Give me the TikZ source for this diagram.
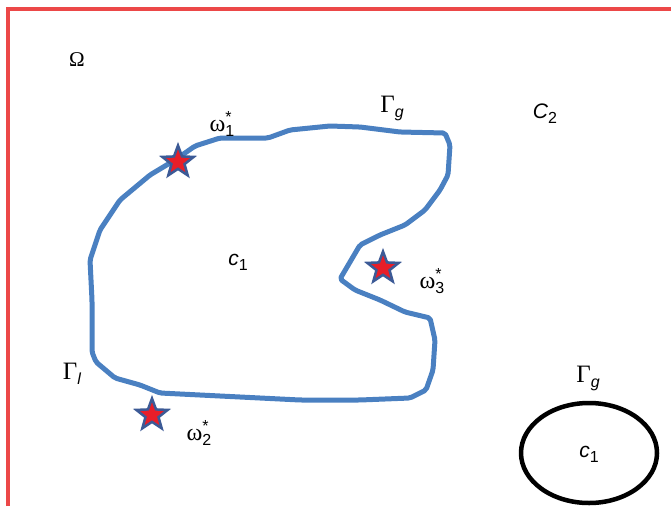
\documentclass[tikz,border=0pt]{standalone}
\usepackage{fontspec}
\setmainfont{Liberation Sans}
\newfontfamily\serifgr{Liberation Serif}
\usetikzlibrary{shapes.geometric}
\definecolor{framered}{RGB}{236,72,72}
\definecolor{bdblue}{RGB}{74,128,193}
\definecolor{stared}{RGB}{232,30,40}
\definecolor{staredge}{RGB}{60,90,150}
\newcommand{\lowsub}[1]{\raisebox{-0.45ex}{\fontsize{16}{16}\selectfont #1}}
\newcommand{\Gam}[1]{{\serifgr\fontsize{25}{25}\selectfont\char"0393}\lowsub{\itshape #1}}
\newcommand{\omstar}[1]{{\serifgr\fontsize{24}{24}\selectfont\char"03C9}\rlap{\raisebox{0.85ex}{\fontsize{16}{16}\selectfont *}}\lowsub{#1}}
\newcommand{\cvar}[1]{{\itshape c}\lowsub{#1}}
\tikzset{
  lbl/.style={font=\fontsize{21}{21}\selectfont, inner sep=0pt},
  pstar/.style={star, star points=5, star point ratio=2.4, minimum size=33pt,
    inner sep=0pt, fill=stared, draw=staredge, line width=2.5pt},
}
\begin{document}
\begin{tikzpicture}[x=1pt,y=-1pt]
\useasboundingbox (0,0) rectangle (671,506);
% outer domain edges
\draw[framered, line width=3.5pt] (8,506) -- (8,9) -- (671,9);
% boundary of the inner region
\draw[bdblue, line width=5pt, line join=round, rounded corners=2pt]
  (220,138) -- (268,138) -- (290,130) -- (330,126) -- (360,127) -- (400,132)
  -- (445,133) -- (450,145) -- (448,175) -- (440,190) -- (425,210) -- (405,225)
  -- (380,235) -- (360,245) -- (350,262) -- (340,279) -- (355,290) -- (380,300)
  -- (405,312) -- (430,318) -- (435,340) -- (433,370) -- (426,390) -- (410,398)
  -- (360,400) -- (300,400) -- (220,396) -- (160,393) -- (140,385) -- (115,378)
  -- (96,362) -- (92,352) -- (92,300) -- (90,260) -- (100,230) -- (120,200)
  -- (150,175) -- (175,160) -- (195,146) -- cycle;
% separate component
\draw[line width=4.5pt] (589,453) ellipse (68 and 50);
\node[lbl] (c1b) at (589,454) {\cvar{1}};
% sensor points
\node[pstar] (w1) at (178,162) {};
\node[pstar] (w2) at (152,415) {};
\node[pstar] (w3) at (383,268) {};
% labels
\node[lbl] (om) at (77,60) {{\serifgr\fontsize{21}{21}\selectfont\char"03A9}};
\node[lbl] (l1) at (222,124) {\omstar{1}};
\node[lbl] (l3) at (432,281) {\omstar{3}};
\node[lbl] (l2) at (199,433) {\omstar{2}};
\node[lbl] (gg) at (392,108) {\Gam{g}};
\node[lbl] (C2) at (545,114) {{\itshape C}\lowsub{2}};
\node[lbl] (c1) at (238,262) {\cvar{1}};
\node[lbl] (gl) at (72,374) {\Gam{l}};
\node[lbl] (gg2) at (588,378) {\Gam{g}};
\end{tikzpicture}
\end{document}
